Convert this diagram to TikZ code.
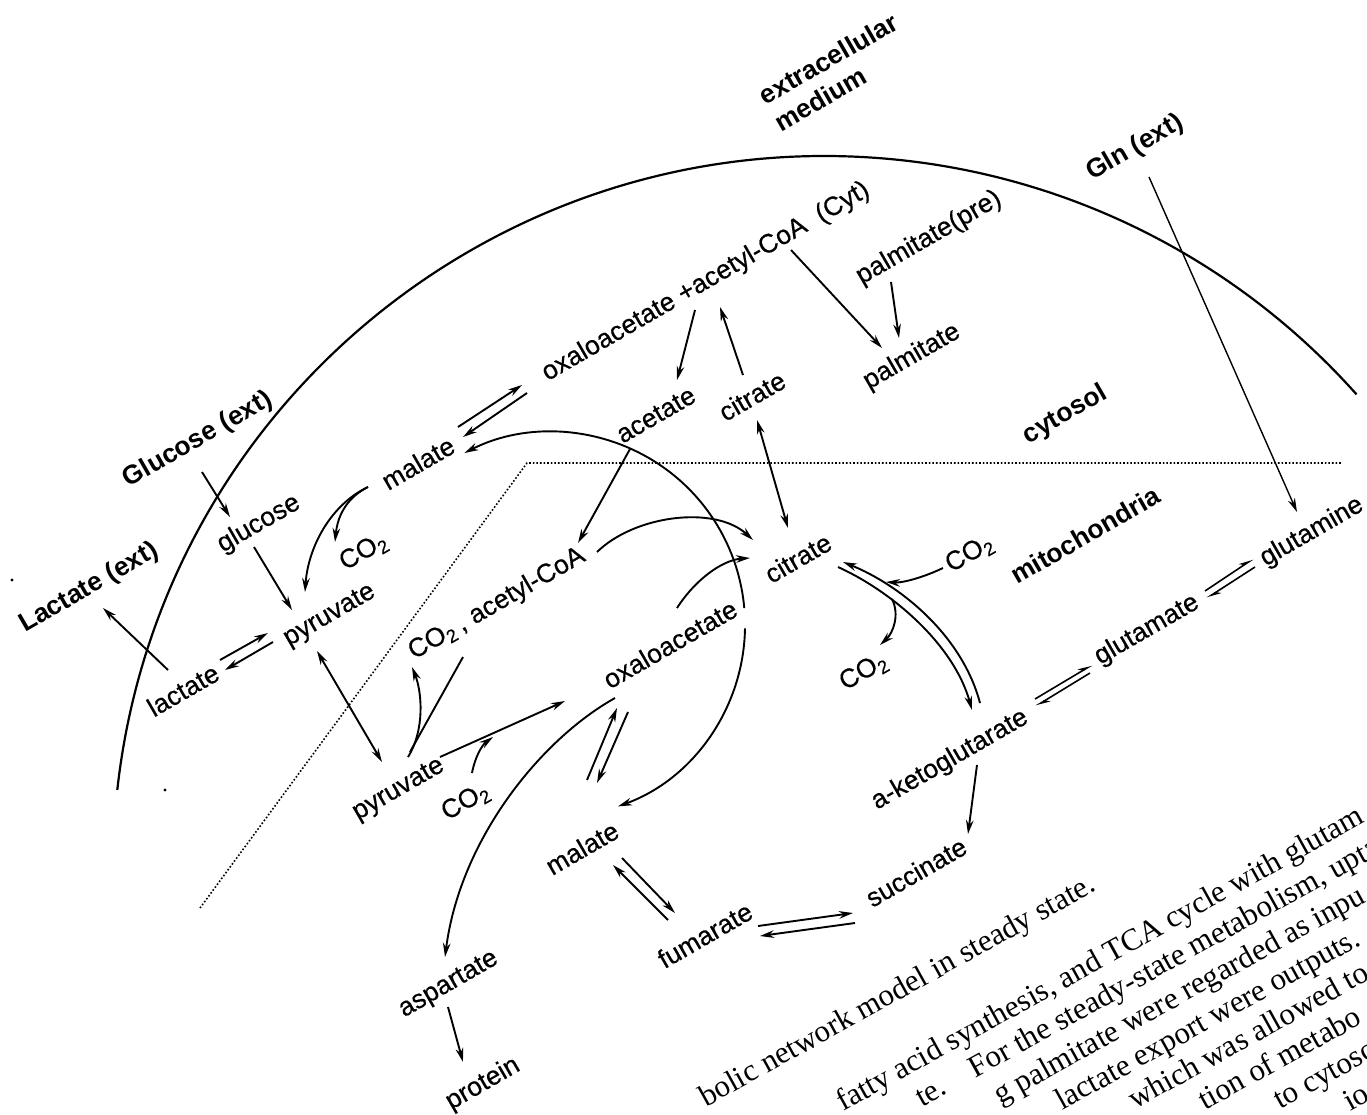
\documentclass[tikz,border=0pt]{standalone}
\usepackage{fontspec}
\setmainfont{Liberation Sans}
\newfontfamily\lblfont[FakeBold=0.5]{Liberation Sans}
\newfontfamily\capserif{Liberation Serif}
\usetikzlibrary{arrows.meta}
\begin{document}
\begin{tikzpicture}[x=0.5pt,y=-0.5pt,
  lbl/.style={rotate=30,inner sep=0pt,font=\lblfont\fontsize{13.2}{15.5}\selectfont},
  blbl/.style={rotate=30,inner sep=0pt,font=\fontsize{13.2}{15.5}\selectfont\bfseries},
  captxt/.style={rotate=29,inner sep=0pt,anchor=base west,font=\capserif\fontsize{15.5}{18}\selectfont},
  ln/.style={line width=0.95pt},
  arr/.style={ln,-{Stealth[length=7pt,width=3.8pt]}},
  rarr/.style={ln,{Stealth[length=7pt,width=3.8pt]}-},
  darr/.style={ln,{Stealth[length=7pt,width=3.8pt]}-{Stealth[length=7pt,width=3.8pt]}},
  harp/.style={line width=0.8pt,-{Stealth[harpoon,length=6pt,width=3.6pt]}},
  memb/.style={line width=1.1pt},
  mitomemb/.style={line width=0.8pt,densely dotted}]
\useasboundingbox (0,0) rectangle (1367,1115);

% ---------- membranes ----------
\coordinate (cellA) at (117.3,789.9);
\draw[memb] (cellA) arc[start angle=186.3,end angle=318.3,radius=712];
\coordinate (mm1) at (200,908);
\coordinate (mm2) at (527,463);
\coordinate (mm3) at (1342,463);
\draw[mitomemb] (mm1) -- (mm2) -- (mm3);
\fill (12,580) circle[radius=1.6];
\fill (165,790) circle[radius=1.6];

% ---------- labels ----------
\node[blbl] (gluext) at (198,440) {Glucose (ext)};
\node[blbl] (lacext) at (89,588) {Lactate (ext)};
\node[blbl,align=left] (extmed) at (836,72) {extracellular\\medium};
\node[blbl] (glnext) at (1135,148) {Gln (ext)};
\node[blbl] (cytosol) at (1065,415) {cytosol};
\node[blbl] (mito) at (1085,535) {mitochondria};

\node[lbl] (glucose) at (259,524) {glucose};
\node[lbl] (pyrc) at (330,616) {pyruvate};
\node[lbl] (lactate) at (183,690) {lactate};
\node[lbl] (malc) at (418,463) {malate};
\node[lbl] (co2a) at (364,552) {CO\textsubscript{2}};
\node[lbl] (oaacoa) at (706,282) {oxaloacetate +acetyl-CoA~~(Cyt)};
\node[lbl] (acetate) at (656,415) {acetate};
\node[lbl] (citc) at (752,396) {citrate};
\node[lbl] (palpre) at (929,238) {palmitate(pre)};
\node[lbl] (palm) at (912,357) {palmitate};
\node[lbl] (glutamine) at (1312,532) {glutamine};
\node[lbl] (glutamate) at (1147,630) {glutamate};
\node[lbl] (akg) at (950,760) {a-ketoglutarate};
\node[lbl] (succ) at (916,872) {succinate};
\node[lbl] (fum) at (705,935) {fumarate};
\node[lbl] (malm) at (582,848) {malate};
\node[lbl] (asp) at (449,985) {aspartate};
\node[lbl] (prot) at (483,1084) {protein};
\node[lbl] (pyrm) at (399,790) {pyruvate};
\node[lbl] (co2c) at (466,802) {CO\textsubscript{2}};
\node[lbl] (co2acoa) at (497,604) {CO\textsubscript{2}\,, acetyl-CoA};
\node[lbl] (oaam) at (670,644) {oxaloacetate};
\node[lbl] (citm) at (798,558) {citrate};
\node[lbl] (co2d) at (970,554) {CO\textsubscript{2}};
\node[lbl] (co2e) at (864,672) {CO\textsubscript{2}};

% ---------- caption (cut by the page edges) ----------
\node[captxt,anchor=base east] (cap1) at (1098,890) {bolic network model in steady state.};
\node[captxt] (cap2) at (843,1112) {fatty acid synthesis, and TCA cycle with glutam};
\node[captxt] (cap3) at (922,1108) {te.\quad For the steady-state metabolism, upta};
\node[captxt] (cap4) at (1000,1105) {g palmitate were regarded as inpu};
\node[captxt] (cap5) at (1062,1111) {lactate export were outputs.};
\node[captxt] (cap6) at (1135,1110) {which was allowed to};
\node[captxt] (cap7) at (1205,1111) {tion of metabo};
\node[captxt] (cap8) at (1280,1110) {to cytoso};
\node[captxt] (cap9) at (1350,1112) {io};

% ---------- connector end points ----------
\coordinate (g1) at (202,472); \coordinate (g2) at (230,517);
\coordinate (g3) at (254,547); \coordinate (g4) at (292,610);
\coordinate (l1) at (168,670); \coordinate (l2) at (103,608);
\coordinate (l3) at (220,660); \coordinate (l4) at (268,633);
\coordinate (l5) at (273,642); \coordinate (l6) at (225,670);
\coordinate (p1) at (317,651); \coordinate (p2) at (382,762);
\coordinate (p3) at (440,757); \coordinate (p4) at (565,701);
\coordinate (p5) at (410,752); \coordinate (p6) at (463,657);
\coordinate (p7) at (408,757); \coordinate (p8) at (412,667);
\coordinate (c1) at (472,773); \coordinate (c2) at (493,737);
\coordinate (m1) at (368,487); \coordinate (m2) at (305,592); \coordinate (m3) at (335,542);
\coordinate (m4) at (458,427); \coordinate (m5) at (522,385);
\coordinate (m6) at (527,393); \coordinate (m7) at (463,437);
\coordinate (o1) at (695,310); \coordinate (o2) at (677,380);
\coordinate (o3) at (743,375); \coordinate (o4) at (720,307);
\coordinate (o5) at (757,420); \coordinate (o6) at (788,528);
\coordinate (o7) at (791,250); \coordinate (o8) at (882,348);
\coordinate (o9) at (891,282); \coordinate (o10) at (899,338);
\coordinate (q1) at (1149,177); \coordinate (q2) at (1297,512);
\coordinate (a1) at (630,449); \coordinate (a2) at (578,543);
\coordinate (a3) at (597,552); \coordinate (a4) at (753,540);
\coordinate (a5) at (677,608); \coordinate (a6) at (750,558);
\coordinate (bigA) at (464.4,453.0); \coordinate (bigB) at (745,628.4);
\coordinate (x1) at (587,780); \coordinate (x2) at (617,708);
\coordinate (x3) at (628,712); \coordinate (x4) at (597,783);
\coordinate (x5) at (615,698); \coordinate (x6) at (445,957);
\coordinate (x7) at (448,1007); \coordinate (x8) at (463,1062);
\coordinate (f1) at (622,858); \coordinate (f2) at (675,913);
\coordinate (f3) at (668,920); \coordinate (f4) at (613,865);
\coordinate (f5) at (758,926); \coordinate (f6) at (853,913);
\coordinate (f7) at (855,923); \coordinate (f8) at (760,936);
\coordinate (k1) at (977,765); \coordinate (k2) at (968,834);
\coordinate (h1) at (1035,699); \coordinate (h2) at (1092,665);
\coordinate (h3) at (1090,673); \coordinate (h4) at (1036,706);
\coordinate (h5) at (1205,591); \coordinate (h6) at (1253,559);
\coordinate (h7) at (1255,567); \coordinate (h8) at (1207,598);
\coordinate (t1) at (843,562); \coordinate (t2) at (980,703);
\coordinate (t3) at (838,567); \coordinate (t4) at (972,710);
\coordinate (e1) at (943,568); \coordinate (e2) at (886,582);
\coordinate (e3) at (892,599); \coordinate (e4) at (880,645);

% ---------- connectors ----------
\draw[arr] (g1) -- (g2);
\draw[arr] (g3) -- (g4);
\draw[arr] (l1) -- (l2);
\draw[arr] (l3) -- (l4);
\draw[arr] (l5) -- (l6);
\draw[darr] (p1) -- (p2);
\draw[arr] (p3) -- (p4);
\draw[ln] (p5) -- (p6);
\draw[arr] (p7) .. controls (425,730) and (422,692) .. (p8);
\draw[arr] (c1) .. controls (475,757) and (482,745) .. (c2);
\draw[arr] (m1) .. controls (330,505) and (308,548) .. (m2);
\draw[arr] (m1) .. controls (350,496) and (338,512) .. (m3);
\draw[arr] (m4) -- (m5);
\draw[arr] (m6) -- (m7);
\draw[arr] (o1) -- (o2);
\draw[arr] (o3) -- (o4);
\draw[darr] (o5) -- (o6);
\draw[arr] (o7) -- (o8);
\draw[arr] (o9) -- (o10);
\draw[line width=0.7pt,-{Stealth[length=7pt,width=3.8pt]}] (q1) -- (q2);
\draw[arr] (a1) -- (a2);
\draw[arr] (a3) .. controls (635,515) and (715,505) .. (a4);
\draw[arr] (a5) .. controls (695,580) and (722,560) .. (a6);
\draw[rarr] (bigA) arc[start angle=243,end angle=355,radius=193];
\draw[arr] (bigB) arc[start angle=361,end angle=430,radius=193];
\draw[arr] (x1) -- (x2);
\draw[arr] (x3) -- (x4);
\draw[arr] (x5) .. controls (540,740) and (460,840) .. (x6);
\draw[arr] (x7) -- (x8);
\draw[arr] (f1) -- (f2);
\draw[arr] (f3) -- (f4);
\draw[arr] (f5) -- (f6);
\draw[arr] (f7) -- (f8);
\draw[arr] (k1) -- (k2);
\draw[harp] (h1) -- (h2);
\draw[harp] (h3) -- (h4);
\draw[harp] (h5) -- (h6);
\draw[harp] (h7) -- (h8);
\draw[rarr] (t1) .. controls (900,585) and (962,635) .. (t2);
\draw[arr] (t3) .. controls (893,592) and (954,645) .. (t4);
\draw[arr] (e1) .. controls (922,578) and (902,583) .. (e2);
\draw[arr] (e3) .. controls (900,615) and (893,633) .. (e4);
\end{tikzpicture}
\end{document}
